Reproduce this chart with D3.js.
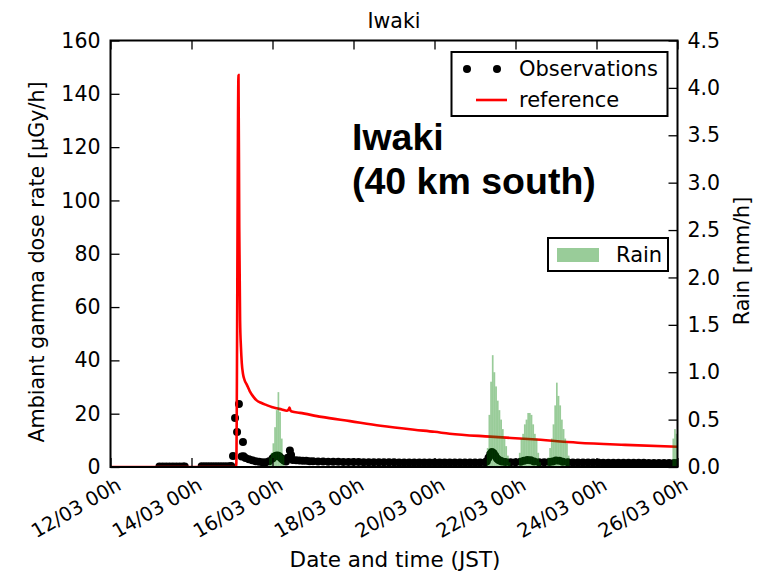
<!DOCTYPE html>
<html>
<head>
<meta charset="utf-8">
<script src="https://cdn.jsdelivr.net/npm/d3@7"></script>
<style>
  body { margin: 0; background: #fff; }
  text { font-family: "DejaVu Sans", sans-serif; }
</style>
</head>
<body>
<div id="chart"></div>
<script>
// hours since 12/03 00h (JST)
const obsHour = [29, 31, 33, 35, 37, 39, 41, 43, 44,
  54, 56, 58, 60, 62, 64, 66, 68, 70, 71.5,
  72.6, 73.8, 75, 76.1, 77.7, 78.5, 78.8, 80, 82, 84, 86, 88, 90, 92, 94, 96, 97, 98, 99, 100, 101, 102, 103, 104, 105, 106.3, 107, 108,
  110, 112, 114, 116, 118, 120, 123, 126, 129, 132, 135, 138, 141, 144, 147, 150, 153, 156, 159, 162, 165, 168, 171, 174, 177, 180,
  183, 186, 189, 192, 195, 198, 201, 204, 207, 210, 213, 216, 219, 222,
  223, 224, 225, 226, 227, 228, 229, 230, 231, 232, 234, 237, 240, 243, 245, 247, 249, 251, 254, 257, 260, 262, 264, 266, 268,
  271, 274, 277, 280, 283, 286, 289, 292, 295, 298, 301, 304, 307, 310, 313, 316, 319, 322, 325, 328, 331, 334, 336];
const obsDose = [0.2, 0.2, 0.2, 0.2, 0.2, 0.2, 0.2, 0.2, 0.2,
  0.3, 0.3, 0.3, 0.3, 0.3, 0.3, 0.3, 0.3, 0.3, 0.4,
  4.1, 18.4, 13.1, 23.6, 3.9, 9.4, 4.0, 3.4, 2.9, 2.5, 2.2, 2.0, 1.8, 1.8, 2.2, 3.2, 3.8, 4.2, 4.3, 4.0, 3.4, 2.8, 2.3, 2.1, 3.5, 6.2, 4.5, 2.6,
  2.5, 2.4, 2.3, 2.3, 2.2, 2.2, 2.1, 2.1, 2.0, 2.0, 2.0, 1.9, 1.9, 1.9, 1.9, 1.8, 1.8, 1.8, 1.8, 1.8, 1.8, 1.8, 1.7, 1.7, 1.7, 1.7,
  1.7, 1.7, 1.7, 1.7, 1.7, 1.7, 1.7, 1.7, 1.7, 1.7, 1.7, 1.7, 1.7, 1.8,
  2.2, 3.5, 4.8, 5.6, 5.2, 4.2, 3.2, 2.6, 2.3, 2.1, 1.9, 1.8, 1.8, 2.0, 2.3, 2.6, 2.5, 2.1, 1.8, 1.8, 1.9, 2.1, 2.4, 2.3, 2.0,
  1.8, 1.7, 1.7, 1.7, 1.7, 1.7, 1.7, 1.6, 1.6, 1.6, 1.6, 1.6, 1.6, 1.6, 1.6, 1.6, 1.5, 1.5, 1.5, 1.5, 1.5, 1.5, 1.5];

const refHour = [0, 74.5, 75.85, 76.3, 76.8, 77.3, 77.8, 78.5, 79.5, 80.7, 82.5, 84.5, 86.6, 89.5, 92.6, 95.5, 98.5, 101.5,
  104.4, 105.5, 106.1, 106.6, 107.5, 112.3, 125, 142, 160, 180, 192, 201, 225, 250, 277, 305, 336];
const refDose = [0, 0, 147, 90, 55, 45, 39, 35, 32.5, 31, 28.5, 26.5, 25, 24, 23.2, 22.5, 22, 21.6,
  21.1, 21.5, 22.3, 21.2, 20.8, 20.3, 18.8, 17.2, 15.5, 14.0, 13.2, 12.5, 11.4, 10.4, 9.1, 8.3, 7.6];

const rainHour = [94, 95, 96, 97, 98, 99, 100, 101, 102,
  223, 224, 225, 226, 227, 228, 229, 230, 231, 232, 233, 234, 235, 236,
  242, 243, 244, 245, 246, 247, 248, 249, 250, 251, 252, 253, 254,
  259, 260, 261, 262, 263, 264, 265, 266, 267, 268, 269, 270, 271,
  333, 334, 335];
const rainMm = [0.1, 0.15, 0.25, 0.42, 0.6, 0.79, 0.58, 0.3, 0.12,
  0.2, 0.55, 0.9, 1.18, 1.0, 0.85, 0.7, 0.6, 0.5, 0.4, 0.3, 0.22, 0.12, 0.05,
  0.15, 0.3, 0.35, 0.45, 0.5, 0.57, 0.57, 0.55, 0.45, 0.35, 0.3, 0.15, 0.05,
  0.1, 0.2, 0.3, 0.45, 0.65, 0.89, 0.75, 0.65, 0.5, 0.4, 0.3, 0.25, 0.12,
  0.3, 0.4, 0.35];

const xTickDays = [12, 14, 16, 18, 20, 22, 24, 26];
const doseTicks = [0, 20, 40, 60, 80, 100, 120, 140, 160];
const rainTicks = [0.0, 0.5, 1.0, 1.5, 2.0, 2.5, 3.0, 3.5, 4.0, 4.5];

const W = 765, H = 574;
const L = 110.5, R = 677.5, T = 40.5, B = 467;

const t0 = Date.UTC(2011, 2, 12);
const toDate = h => new Date(t0 + h * 3600e3);

const svg = d3.select("#chart").append("svg")
  .attr("width", W).attr("height", H);

const x = d3.scaleUtc()
  .domain([toDate(0), toDate(336)])
  .range([L, R]);
const y = d3.scaleLinear().domain([0, 160]).range([B, T]);
const y2 = d3.scaleLinear().domain([0, 4.5]).range([B, T]);

svg.append("clipPath").attr("id", "plot")
  .append("rect").attr("x", L).attr("y", T).attr("width", R - L).attr("height", B - T);

const plot = svg.append("g").attr("clip-path", "url(#plot)");

// observations
plot.selectAll(".obs")
  .data(obsHour.map((h, i) => ({ h, v: obsDose[i] })))
  .join("circle")
  .attr("class", "obs")
  .attr("cx", d => x(toDate(d.h)))
  .attr("cy", d => y(d.v))
  .attr("r", 4)
  .attr("fill", "#000");

// reference
plot.append("path")
  .datum(refHour.map((h, i) => ({ h, v: refDose[i] })))
  .attr("fill", "none")
  .attr("stroke", "#ff0000")
  .attr("stroke-width", 2.6)
  .attr("d", d3.line().curve(d3.curveMonotoneX).x(d => x(toDate(d.h))).y(d => y(d.v)));

// rain (twin axis, on top)
plot.selectAll(".rain")
  .data(rainHour.map((h, i) => ({ h, v: rainMm[i] })))
  .join("rect")
  .attr("class", "rain")
  .attr("x", d => x(toDate(d.h)))
  .attr("width", d => x(toDate(d.h + 1)) - x(toDate(d.h)))
  .attr("y", d => y2(d.v))
  .attr("height", d => B - y2(d.v))
  .attr("fill", "green")
  .attr("fill-opacity", 0.4);

// axes
const fmt = d3.utcFormat("%d/%m %Hh");
const xTicks = xTickDays.map(d => new Date(Date.UTC(2011, 2, d)));

const gx = svg.append("g")
  .attr("transform", `translate(0,${B})`)
  .call(d3.axisBottom(x).tickValues(xTicks).tickFormat(fmt).tickSizeInner(-9).tickSizeOuter(0).tickPadding(10));
gx.selectAll("text")
  .style("font-size", "19.5px")
  .attr("transform", "rotate(-30)")
  .style("text-anchor", "end")
  .attr("dx", "-0.05em").attr("dy", "0.75em");

svg.append("g")
  .attr("transform", `translate(0,${T})`)
  .call(d3.axisTop(x).tickValues(xTicks).tickFormat("").tickSizeInner(-9).tickSizeOuter(0));

const gy = svg.append("g")
  .attr("transform", `translate(${L},0)`)
  .call(d3.axisLeft(y).tickValues(doseTicks).tickSizeInner(-9).tickSizeOuter(0).tickPadding(10));

const gy2 = svg.append("g")
  .attr("transform", `translate(${R},0)`)
  .call(d3.axisRight(y2).tickValues(rainTicks).tickFormat(d3.format(".1f")).tickSizeInner(-9).tickSizeOuter(0).tickPadding(10));

svg.selectAll(".tick line").attr("stroke", "#000").attr("stroke-width", 1.3);
svg.selectAll(".tick text").attr("fill", "#000");
gy.selectAll("text").style("font-size", "20.5px");
gy2.selectAll("text").style("font-size", "20.5px");
svg.selectAll(".domain").remove();

// frame
svg.append("rect")
  .attr("x", L).attr("y", T).attr("width", R - L).attr("height", B - T)
  .attr("fill", "none").attr("stroke", "#000").attr("stroke-width", 2);

// labels
svg.append("text")
  .attr("x", (L + R) / 2).attr("y", 28)
  .attr("text-anchor", "middle").style("font-size", "20.5px")
  .text("Iwaki");

svg.append("text")
  .attr("x", (L + R) / 2 + 1).attr("y", 567)
  .attr("text-anchor", "middle").style("font-size", "21.5px")
  .text("Date and time (JST)");

svg.append("text")
  .attr("transform", `translate(44,262) rotate(-90)`)
  .attr("text-anchor", "middle").style("font-size", "20.7px")
  .text("Ambiant gamma dose rate [µGy/h]");

svg.append("text")
  .attr("transform", `translate(749,261) rotate(-90)`)
  .attr("text-anchor", "middle").style("font-size", "20.7px")
  .text("Rain [mm/h]");

// annotation
const ann = svg.append("text")
  .style("font-family", "'Liberation Sans', Arial, sans-serif")
  .style("font-weight", "bold").style("font-size", "37.5px");
ann.append("tspan").attr("x", 352).attr("y", 150).text("Iwaki");
ann.append("tspan").attr("x", 352).attr("y", 194).text("(40 km south)");

// legend: observations / reference
const lg = svg.append("g");
lg.append("rect").attr("x", 451.5).attr("y", 52).attr("width", 216).attr("height", 64)
  .attr("fill", "#fff").attr("stroke", "#000").attr("stroke-width", 2);
lg.selectAll("circle").data([467, 497]).join("circle")
  .attr("cx", d => d).attr("cy", 69).attr("r", 4).attr("fill", "#000");
lg.append("line").attr("x1", 476).attr("x2", 507).attr("y1", 100).attr("y2", 100)
  .attr("stroke", "#ff0000").attr("stroke-width", 2.6);
lg.append("text").attr("x", 519).attr("y", 76).style("font-size", "21px").text("Observations");
lg.append("text").attr("x", 519).attr("y", 107).style("font-size", "21px").text("reference");

// legend: rain
const lr = svg.append("g");
lr.append("rect").attr("x", 548).attr("y", 238).attr("width", 120).attr("height", 33)
  .attr("fill", "#fff").attr("stroke", "#000").attr("stroke-width", 2);
lr.append("rect").attr("x", 557).attr("y", 248).attr("width", 42).attr("height", 14)
  .attr("fill", "green").attr("fill-opacity", 0.4);
lr.append("text").attr("x", 616).attr("y", 262).style("font-size", "21px").text("Rain");
</script>
</body>
</html>
